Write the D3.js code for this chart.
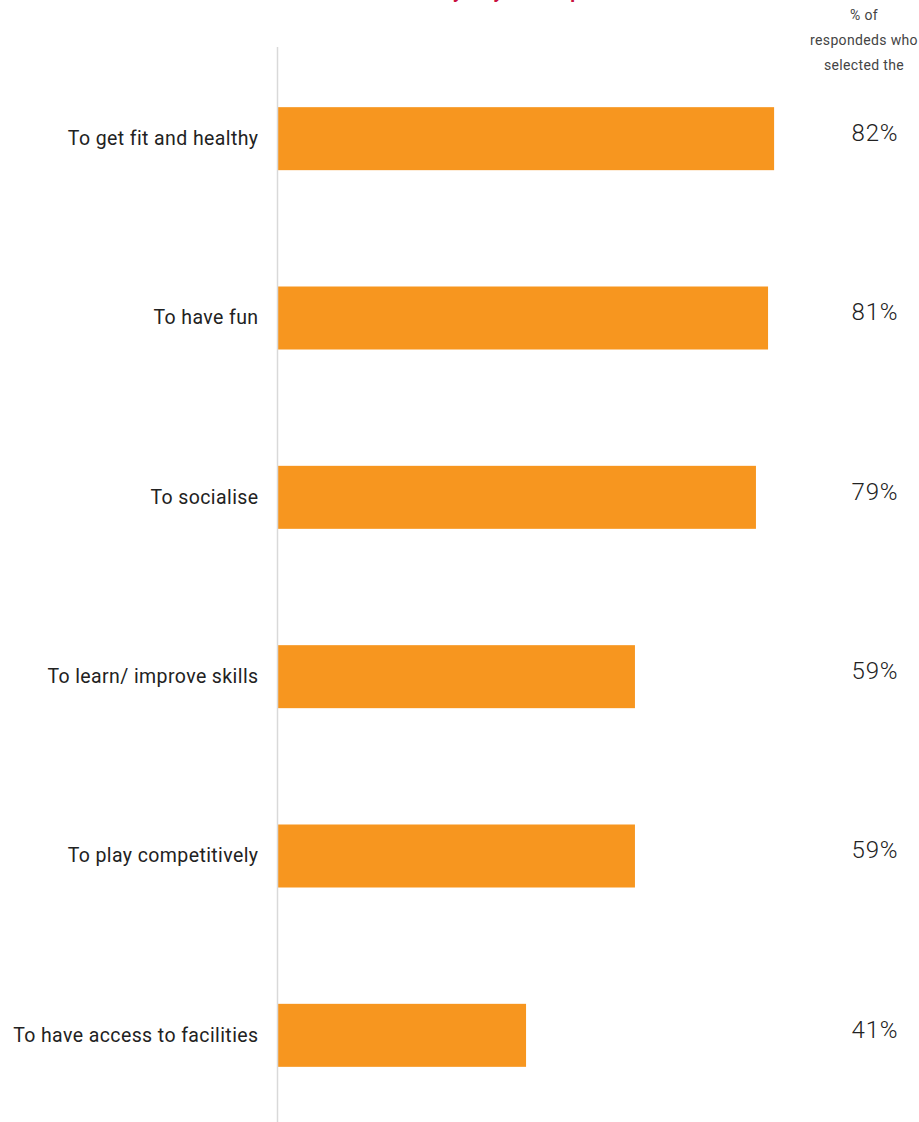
<!DOCTYPE html>
<html>
<head>
<meta charset="utf-8">
<script src="https://cdn.jsdelivr.net/npm/d3@7"></script>
<style>
  html, body { margin: 0; padding: 0; background: #fff; }
  svg { display: block; }
</style>
</head>
<body>
<script>
// Reasons for taking part, share of respondents per reason
const categories = [
  "To get fit and healthy",
  "To have fun",
  "To socialise",
  "To learn/ improve skills",
  "To play competitively",
  "To have access to facilities"
];
const values = [82, 81, 79, 59, 59, 41];
const headerLines = ["% of", "respondeds who", "selected the"];
const titleText = "Why do you take part?";

const W = 919, H = 1122;
const svg = d3.select("body").append("svg").attr("width", W).attr("height", H);

const x = d3.scaleLinear().domain([0, 100]).range([278, 278 + 605]);
const y = d3.scaleBand().domain(categories).range([49, 1125])
  .paddingInner(0.6487).paddingOuter(0.6487 / 2);

// Title sits above the visible area, only its descenders reach the top edge
svg.append("text")
  .attr("x", 520).attr("y", -2)
  .attr("text-anchor", "middle")
  .attr("font-family", "Roboto, sans-serif")
  .attr("font-size", 19)
  .attr("font-weight", 700)
  .attr("fill", "#c8103f")
  .text(titleText);

// Value column header
svg.append("g").selectAll("text").data(headerLines).join("text")
  .attr("x", 864).attr("y", (d, i) => 20 + i * 25)
  .attr("text-anchor", "middle")
  .attr("font-family", "Roboto, sans-serif")
  .attr("font-size", 14)
  .attr("letter-spacing", 0.35)
  .attr("fill", "#444")
  .text(d => d);

// Bars
svg.append("g").selectAll("rect").data(values).join("rect")
  .attr("x", x(0))
  .attr("y", (d, i) => y(categories[i]))
  .attr("width", d => x(d) - x(0))
  .attr("height", y.bandwidth())
  .attr("fill", "#f7961f");

// Category axis
const axis = svg.append("g")
  .attr("transform", `translate(${x(0) - 0.5},0)`)
  .call(d3.axisLeft(y).tickSize(0).tickPadding(19));
axis.select(".domain")
  .attr("d", `M0,47V${H}`)
  .attr("stroke", "#d9d9d9").attr("stroke-width", 1.5);
axis.selectAll(".tick text")
  .attr("font-family", "Roboto, sans-serif")
  .attr("font-size", 19.5)
  .attr("letter-spacing", 0.4)
  .attr("fill", "#222");

// Value labels
svg.append("g").selectAll("text").data(values).join("text")
  .attr("x", 875)
  .attr("y", (d, i) => y(categories[i]) + y.bandwidth() / 2 - 6)
  .attr("dy", "0.35em")
  .attr("text-anchor", "middle")
  .attr("font-family", "Roboto, sans-serif")
  .attr("font-weight", 300)
  .attr("font-size", 24)
  .attr("letter-spacing", 0.8)
  .attr("fill", "#222")
  .text(d => d + "%");
</script>
</body>
</html>
